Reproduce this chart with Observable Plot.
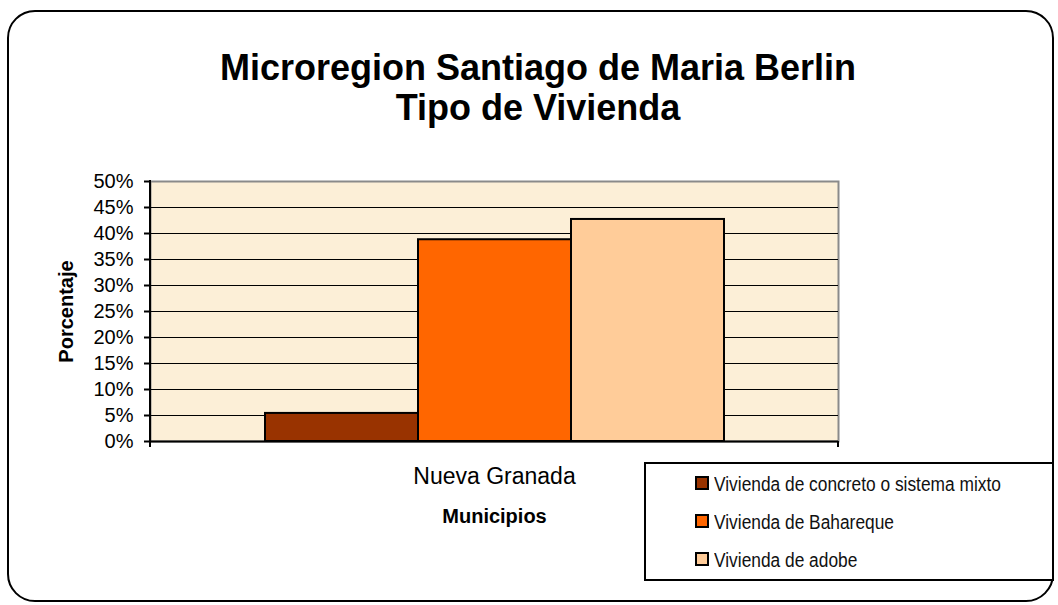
<!DOCTYPE html>
<html>
<head>
<meta charset="utf-8">
<script src="https://cdn.jsdelivr.net/npm/d3@7"></script>
<script src="https://cdn.jsdelivr.net/npm/@observablehq/plot@0.6"></script>
<style>
  html, body { margin: 0; padding: 0; background: #ffffff; }
  #wrap { position: relative; width: 1058px; height: 605px; overflow: hidden; font-family: "Liberation Sans", Arial, sans-serif; }
  #wrap svg { position: absolute; left: 0; top: 0; }
  #border { position: absolute; left: 7px; top: 10px; width: 1047px; height: 592px; box-sizing: border-box; border: 2px solid #000; border-radius: 28px; }
  #title { position: absolute; left: 38px; top: 48px; width: 1000px; text-align: center; font-weight: bold; font-size: 36px; line-height: 40px; color: #000; }
  #legend { position: absolute; left: 644px; top: 462px; width: 410px; height: 119px; box-sizing: border-box; border: 2px solid #000; background: #fff; }
  .item { position: absolute; left: 49px; height: 20px; font-family: "Liberation Sans", Arial, sans-serif; font-size: 20px; line-height: 20px; color: #111; white-space: nowrap; }
  .sw { position: absolute; left: 0; top: 2px; width: 14px; height: 14px; box-sizing: border-box; border: 2px solid #000; }
  .lab { position: absolute; left: 19px; top: 0; transform: scaleX(0.867); transform-origin: 0 50%; }
</style>
</head>
<body>
<div id="wrap">
  <div id="border"></div>
  <div id="title"></div>
  <div id="legend"></div>
</div>
<script>
// ---- data ----
const titleLines = ["Microregion Santiago de Maria Berlin", "Tipo de Vivienda"];
const municipios = ["Nueva Granada"];
const series = ["Vivienda de concreto o sistema mixto", "Vivienda de Bahareque", "Vivienda de adobe"];
const values = [0.054, 0.388, 0.427];
const colors = ["#993300", "#FF6600", "#FFCC99"];
const yTicks = [0, 0.05, 0.10, 0.15, 0.20, 0.25, 0.30, 0.35, 0.40, 0.45, 0.50];
const yLabel = "Porcentaje";
const xLabel = "Municipios";

const data = series.map((s, i) => ({municipio: municipios[0], serie: s, valor: values[i]}));

const axisLines = (index, scales, values, dimensions) => {
  const {width, height, marginLeft, marginRight, marginTop, marginBottom} = dimensions;
  const g = d3.create("svg:g").attr("stroke", "#000").attr("stroke-width", 2);
  g.append("line").attr("x1", marginLeft).attr("x2", marginLeft).attr("y1", marginTop - 1).attr("y2", height - marginBottom + 6);
  g.append("line").attr("x1", width - marginRight).attr("x2", width - marginRight).attr("y1", height - marginBottom).attr("y2", height - marginBottom + 6);
  return g.node();
};

const chart = Plot.plot({
  width: 1058,
  height: 605,
  marginLeft: 150,
  marginRight: 220,
  marginTop: 181,
  marginBottom: 164,
  style: {fontFamily: "'Liberation Sans', Arial, sans-serif", fontSize: "20px", color: "#000", background: "transparent", overflow: "visible"},
  x: {domain: series, paddingInner: 0, paddingOuter: 0.743, axis: null},
  y: {domain: [0, 0.5], axis: null},
  color: {domain: series, range: colors},
  marks: [
    Plot.frame({fill: "#fcefd7", stroke: "#8a8a8a", strokeWidth: 2}),
    Plot.ruleY(yTicks.filter(t => t > 0 && t < 0.5), {stroke: "#000", strokeWidth: 1}),
    Plot.barY(data, {x: "serie", y: "valor", fill: "serie", stroke: "#000", strokeWidth: 2}),
    Plot.ruleY([0], {stroke: "#000", strokeWidth: 2}),
    Plot.axisY(yTicks, {tickSize: 6, tickPadding: 11, tickFormat: d3.format(".0%"), fontSize: 20, strokeWidth: 2, label: null}),
    axisLines,
    Plot.text([yLabel], {frameAnchor: "left", textAnchor: "middle", lineAnchor: "middle", rotate: -90, dx: -84, fontWeight: "bold", fontSize: 20}),
    Plot.text(municipios, {frameAnchor: "bottom", textAnchor: "middle", lineAnchor: "middle", dy: 35, fontSize: 23}),
    Plot.text([xLabel], {frameAnchor: "bottom", textAnchor: "middle", lineAnchor: "middle", dy: 75, fontWeight: "bold", fontSize: 20})
  ]
});
document.getElementById("wrap").insertBefore(chart, document.getElementById("border"));

// title
const title = document.getElementById("title");
titleLines.forEach(t => { const d = document.createElement("div"); d.textContent = t; title.appendChild(d); });

// legend
const legend = document.getElementById("legend");
series.forEach((s, i) => {
  const item = document.createElement("div");
  item.className = "item";
  item.style.top = (10 + i * 38) + "px";
  const sw = document.createElement("div");
  sw.className = "sw";
  sw.style.background = colors[i];
  const lab = document.createElement("div");
  lab.className = "lab";
  lab.textContent = s;
  item.appendChild(sw);
  item.appendChild(lab);
  legend.appendChild(item);
});
</script>
</body>
</html>
